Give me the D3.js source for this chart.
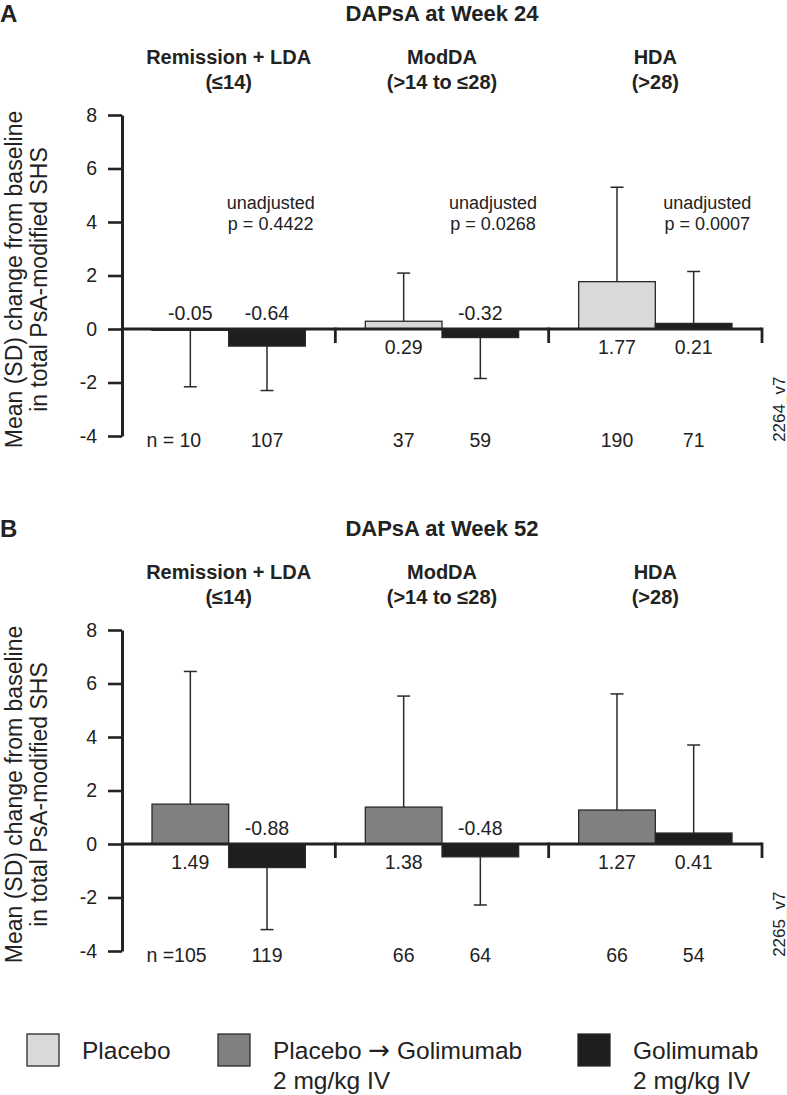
<!DOCTYPE html>
<html>
<head>
<meta charset="utf-8">
<script src="https://cdn.jsdelivr.net/npm/d3@7"></script>
<style>
  html, body { margin: 0; padding: 0; background: #fff; }
  svg { display: block; font-family: "Liberation Sans", Arial, Helvetica, sans-serif; }
  text { fill: #222; }
</style>
</head>
<body>
<svg id="chart" width="787" height="1095"></svg>
<script>
// ---------------- DATA ----------------
const groups = ["Remission + LDA", "ModDA", "HDA"];
const groupRanges = ["(\u226414)", "(>14 to \u226428)", "(>28)"];
const yTicks = [-4, -2, 0, 2, 4, 6, 8];

// Panel A: DAPsA at Week 24
const wk24PlaceboMean = [-0.05, 0.29, 1.77];
const wk24PlaceboSD   = [2.11, 1.80, 3.53];
const wk24PlaceboN    = [10, 37, 190];
const wk24GoliMean    = [-0.64, -0.32, 0.21];
const wk24GoliSD      = [1.66, 1.53, 1.94];
const wk24GoliN       = [107, 59, 71];
const wk24PValues     = ["p = 0.4422", "p = 0.0268", "p = 0.0007"];

// Panel B: DAPsA at Week 52
const wk52PlaGoliMean = [1.49, 1.38, 1.27];
const wk52PlaGoliSD   = [4.96, 4.15, 4.34];
const wk52PlaGoliN    = [105, 66, 66];
const wk52GoliMean    = [-0.88, -0.48, 0.41];
const wk52GoliSD      = [2.32, 1.80, 3.29];
const wk52GoliN       = [119, 64, 54];

const seriesNames = ["Placebo", "Placebo \u2192 Golimumab", "Golimumab"];
const seriesColors = { "Placebo": "#d9d9d9", "Placebo \u2192 Golimumab": "#808080", "Golimumab": "#1e1e1e" };
const legendLabels = [["Placebo"], ["Placebo \u2192 Golimumab", "2 mg/kg IV"], ["Golimumab", "2 mg/kg IV"]];

// ---------------- LAYOUT ----------------
const svg = d3.select("#chart");
const plotLeft = 122, plotRight = 762;
const hyph = s => s.replace(/\u2212/g, "-");
const fmt2 = v => hyph(d3.format(".2f")(v));
const fmtTick = v => hyph(d3.format("d")(v));

const panels = [
  { letter: "A", title: "DAPsA at Week 24", top: 115, bottom: 436, code: "2264_v7", nPrefix: "n = ",
    pvals: wk24PValues, pOffsets: [42, 51, 52],
    series: [
      { name: "Placebo", mean: wk24PlaceboMean, sd: wk24PlaceboSD, n: wk24PlaceboN },
      { name: "Golimumab", mean: wk24GoliMean, sd: wk24GoliSD, n: wk24GoliN }
    ] },
  { letter: "B", title: "DAPsA at Week 52", top: 630, bottom: 951, code: "2265_v7", nPrefix: "n =",
    pvals: null,
    series: [
      { name: "Placebo \u2192 Golimumab", mean: wk52PlaGoliMean, sd: wk52PlaGoliSD, n: wk52PlaGoliN },
      { name: "Golimumab", mean: wk52GoliMean, sd: wk52GoliSD, n: wk52GoliN }
    ] }
];

const xg = d3.scaleBand().domain(groups).range([plotLeft, plotRight]).padding(0);
const xs = d3.scaleBand().domain([0, 1]).range([30, xg.bandwidth() - 30]).padding(0);

panels.forEach(p => {
  const g = svg.append("g");
  const y = d3.scaleLinear().domain([-4, 8]).range([p.bottom, p.top]);
  const y0 = y(0);

  // Panel letter and title
  g.append("text").attr("x", 0).attr("y", p.top - 102).attr("dominant-baseline", "central")
    .attr("font-size", 24).attr("font-weight", "bold").text(p.letter);
  g.append("text").attr("x", (plotLeft + plotRight) / 2).attr("y", p.top - 102)
    .attr("dominant-baseline", "central").attr("text-anchor", "middle")
    .attr("font-size", 22).attr("font-weight", "bold").text(p.title);

  // Group headers
  groups.forEach((gr, i) => {
    const cx = xg(gr) + xg.bandwidth() / 2;
    g.append("text").attr("x", cx).attr("y", p.top - 58).attr("dominant-baseline", "central")
      .attr("text-anchor", "middle").attr("font-size", 20).attr("font-weight", "bold").text(gr);
    g.append("text").attr("x", cx).attr("y", p.top - 33.5).attr("dominant-baseline", "central")
      .attr("text-anchor", "middle").attr("font-size", 20).attr("font-weight", "bold").text(groupRanges[i]);
  });

  // Y axis
  const axis = g.append("g").attr("transform", `translate(${plotLeft},0)`)
    .call(d3.axisLeft(y).tickValues(yTicks).tickSize(14).tickSizeOuter(0).tickPadding(11).tickFormat(fmtTick));
  axis.select(".domain").attr("stroke", "#222").attr("stroke-width", 3);
  axis.selectAll(".tick line").attr("stroke", "#222").attr("stroke-width", 2.6);
  axis.selectAll(".tick text").attr("font-size", 19.5).attr("fill", "#222")
    .attr("font-family", "\"Liberation Sans\", Arial, Helvetica, sans-serif");

  // Y axis title
  const cy = (p.top + p.bottom) / 2 + 4;
  g.append("text").attr("transform", `translate(14,${cy}) rotate(-90)`).attr("text-anchor", "middle")
    .attr("dominant-baseline", "central").attr("font-size", 23).text("Mean (SD) change from baseline");
  g.append("text").attr("transform", `translate(39,${cy}) rotate(-90)`).attr("text-anchor", "middle")
    .attr("dominant-baseline", "central").attr("font-size", 23).text("in total PsA-modified SHS");

  // Bars
  p.series.forEach((s, si) => {
    groups.forEach((gr, gi) => {
      const m = s.mean[gi], sd = s.sd[gi];
      const bx = xg(gr) + xs(si), bw = xs.bandwidth();
      const cx = bx + bw / 2;
      g.append("rect").attr("x", bx).attr("width", bw)
        .attr("y", Math.min(y(m), y0)).attr("height", Math.max(Math.abs(y(m) - y0), 1))
        .attr("fill", seriesColors[s.name]).attr("stroke", "#2a2a2a").attr("stroke-width", 1.3);
      // Error bar
      const end = m >= 0 ? m + sd : m - sd;
      g.append("line").attr("x1", cx).attr("x2", cx).attr("y1", y(m)).attr("y2", y(end))
        .attr("stroke", "#2a2a2a").attr("stroke-width", 1.5);
      g.append("line").attr("x1", cx - 6.5).attr("x2", cx + 6.5).attr("y1", y(end)).attr("y2", y(end))
        .attr("stroke", "#2a2a2a").attr("stroke-width", 1.5);
      // Value label
      g.append("text").attr("x", cx).attr("y", m < 0 ? y0 - 16 : y0 + 18)
        .attr("text-anchor", "middle").attr("dominant-baseline", "central")
        .attr("font-size", 19.5).text(fmt2(m));
      // n label
      const nt = g.append("text").attr("y", y(-4) + 4).attr("dominant-baseline", "central")
        .attr("font-size", 19.5).style("white-space", "pre").text(String(s.n[gi]));
      if (si === 0 && gi === 0) {
        const w = nt.node().getComputedTextLength();
        nt.attr("x", cx + w / 2).attr("text-anchor", "end").text(p.nPrefix + s.n[gi]);
      } else {
        nt.attr("x", cx).attr("text-anchor", "middle");
      }
    });
  });

  // Baseline and group dividers
  g.append("line").attr("x1", plotLeft).attr("x2", plotRight).attr("y1", y0).attr("y2", y0)
    .attr("stroke", "#222").attr("stroke-width", 2.8);
  const dividers = groups.slice(1).map(gr => xg(gr)).concat([plotRight]);
  dividers.forEach(dx => {
    g.append("line").attr("x1", dx).attr("x2", dx).attr("y1", y0 - 1.4).attr("y2", y0 + 14)
      .attr("stroke", "#222").attr("stroke-width", 2.8);
  });

  // p-value annotations
  if (p.pvals) {
    groups.forEach((gr, gi) => {
      const cx = xg(gr) + xg.bandwidth() / 2 + p.pOffsets[gi];
      g.append("text").attr("x", cx).attr("y", p.top + 88).attr("text-anchor", "middle")
        .attr("dominant-baseline", "central").attr("font-size", 18).text("unadjusted");
      g.append("text").attr("x", cx).attr("y", p.top + 109).attr("text-anchor", "middle")
        .attr("dominant-baseline", "central").attr("font-size", 18).text(p.pvals[gi]);
    });
  }

  // Figure code label on the right
  g.append("text").attr("transform", `translate(779,${y(-3)}) rotate(-90)`).attr("text-anchor", "middle")
    .attr("dominant-baseline", "central").attr("font-size", 17).text(p.code);
});

// ---------------- LEGEND ----------------
const legendX = [27, 218, 578];
seriesNames.forEach((name, i) => {
  const lg = svg.append("g").attr("transform", `translate(${legendX[i]},1034)`);
  lg.append("rect").attr("x", 0).attr("y", 0).attr("width", 32).attr("height", 32)
    .attr("fill", seriesColors[name]).attr("stroke", "#2a2a2a").attr("stroke-width", 1.3);
  legendLabels[i].forEach((line, li) => {
    const t = lg.append("text").attr("x", 55).attr("y", 16 + li * 30).attr("dominant-baseline", "central")
      .attr("font-size", 24.5);
    line.split(/(\u2192)/).forEach(part => {
      if (!part) return;
      const ts = t.append("tspan").text(part);
      if (part === "\u2192") ts.attr("font-family", "\"DejaVu Sans\", sans-serif").attr("font-size", 26);
    });
  });
});
</script>
</body>
</html>
